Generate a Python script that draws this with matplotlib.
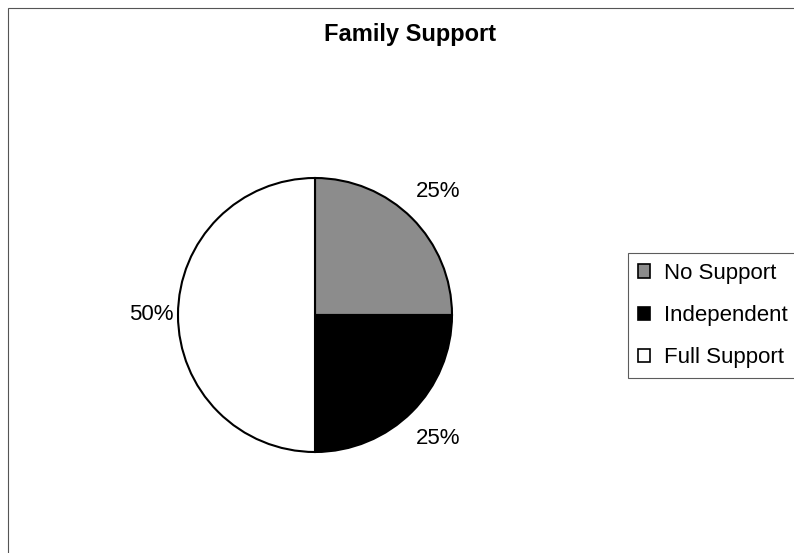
import matplotlib
matplotlib.use("Agg")
import matplotlib.pyplot as plt
from matplotlib.patches import Rectangle

categories = ["No Support", "Independent", "Full Support"]
values = [25, 25, 50]
colors = ["#8c8c8c", "#000000", "#ffffff"]
title = "Family Support"

plt.rcParams['font.family'] = ['Liberation Sans', 'DejaVu Sans']

W, H = 794, 553
fig = plt.figure(figsize=(W / 100, H / 100), dpi=100)
fig.patch.set_facecolor("white")

# outer chart border
fig.add_artist(Rectangle((8 / W, -0.01), 1.2, (H - 8) / H + 0.01, transform=fig.transFigure,
                         fill=False, edgecolor="#555555", linewidth=0.8))

cx, cy, r = 315, H - 315, 137
ax = fig.add_axes([(cx - r) / W, (cy - r) / H, 2 * r / W, 2 * r / H])
wedges, texts, autotexts = ax.pie(values, colors=colors, startangle=90, counterclock=False,
                                  autopct=lambda p: f"{p:.0f}%", pctdistance=1.27,
                                  wedgeprops=dict(edgecolor="black", linewidth=1.5),
                                  textprops=dict(fontsize=16, color="black"))
ax.set_xlim(-1, 1)
ax.set_ylim(-1, 1)
ax.set_aspect("equal")
# Excel-style: the 50% label sits a bit closer to the pie
x0, y0 = autotexts[2].get_position()
autotexts[2].set_position((x0 * 0.94, y0))

fig.text(410 / W, 1 - 34 / H, title, ha="center", va="center", fontsize=17, fontweight="bold")

leg = fig.legend(wedges, categories, loc="upper left", bbox_to_anchor=(628 / W, 1 - 253 / H),
                 fontsize=16, frameon=True, fancybox=False, edgecolor="#333333",
                 handlelength=0.55, handleheight=0.55, handletextpad=0.6, labelspacing=0.95,
                 borderpad=0.45, borderaxespad=0)
leg.get_frame().set_linewidth(0.8)
for h in leg.legend_handles:
    h.set_linewidth(1.2)

fig.savefig("out.png", dpi=100, facecolor="white")
